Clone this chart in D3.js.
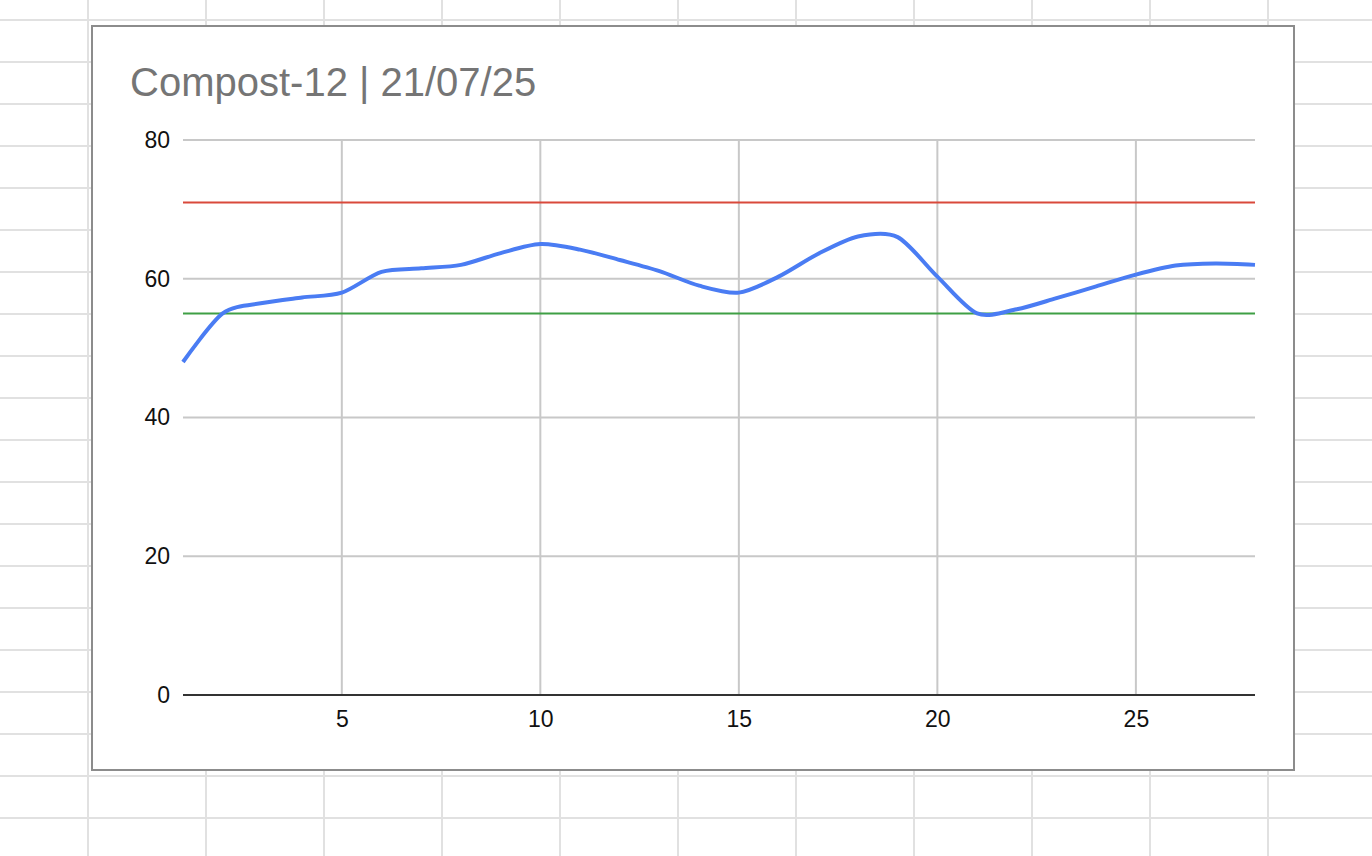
<!DOCTYPE html>
<html>
<head>
<meta charset="utf-8">
<script src="https://cdn.jsdelivr.net/npm/d3@7"></script>
<style>
  html, body {
    margin: 0;
    padding: 0;
    background: #fff;
  }
  svg text {
    font-family: "Liberation Sans", Arial, sans-serif;
  }
</style>
</head>
<body>
<svg id="svg" width="1372" height="856"></svg>
<script>
(function() {
  'use strict';

  // chart data
  var title = 'Compost-12 | 21/07/25';
  var days = [1, 2, 3, 4, 5, 6, 7, 8, 9, 10, 11, 12, 13, 14,
              15, 16, 17, 18, 19, 20, 21, 22, 23, 24, 25, 26, 27, 28];
  var temperature = [48, 55, 56.5, 57.3, 58, 61, 61.5, 62, 63.7, 65, 64.2, 62.7, 61.1, 59.0,
                     58, 60.3, 63.6, 66.1, 66.0, 60.3, 55, 55.6, 57.2, 58.9, 60.6, 61.9, 62.2, 62];
  var upperLimit = [71];
  var lowerLimit = [55];
  var xTicks = [5, 10, 15, 20, 25];
  var yTicks = [0, 20, 40, 60, 80];

  var W = 1372, H = 856;
  var svg = d3.select('#svg');

  /*
  spreadsheet cells behind the chart
  */
  var sheet = svg.append('g').attr('class', 'sheet');
  sheet.selectAll('.col')
    .data(d3.range(88, W, 118))
    .enter().append('line')
    .attr('x1', function(d) { return d; })
    .attr('x2', function(d) { return d; })
    .attr('y1', 0).attr('y2', H)
    .attr('stroke', '#e1e1e1').attr('stroke-width', 2);
  sheet.selectAll('.row')
    .data(d3.range(20, H, 42))
    .enter().append('line')
    .attr('x1', 0).attr('x2', W)
    .attr('y1', function(d) { return d; })
    .attr('y2', function(d) { return d; })
    .attr('stroke', '#e1e1e1').attr('stroke-width', 2);

  // chart box
  svg.append('rect')
    .attr('x', 92).attr('y', 26)
    .attr('width', 1202).attr('height', 744)
    .attr('fill', '#fff')
    .attr('stroke', '#8c8c8c').attr('stroke-width', 2);

  svg.append('text')
    .attr('x', 130).attr('y', 96)
    .attr('font-size', 40)
    .attr('fill', '#757575')
    .text(title);

  var x = d3.scaleLinear().domain([1, 28]).range([183, 1255]);
  var y = d3.scaleLinear().domain([0, 80]).range([695, 140]);

  // gridlines
  var grid = svg.append('g').attr('class', 'grid');
  grid.selectAll('.hgrid')
    .data(yTicks.filter(function(d) { return d > 0; }))
    .enter().append('line')
    .attr('x1', x.range()[0]).attr('x2', x.range()[1])
    .attr('y1', y).attr('y2', y)
    .attr('stroke', '#c8c8c8').attr('stroke-width', 2);
  grid.selectAll('.vgrid')
    .data(xTicks)
    .enter().append('line')
    .attr('x1', x).attr('x2', x)
    .attr('y1', y(80)).attr('y2', y(0))
    .attr('stroke', '#c8c8c8').attr('stroke-width', 2);

  // y axis labels
  var yAxis = d3.axisLeft(y).tickValues(yTicks).tickSize(0).tickPadding(13);
  svg.append('g')
    .attr('transform', 'translate(' + x.range()[0] + ',0)')
    .call(yAxis)
    .call(function(g) {
      g.select('.domain').remove();
      g.selectAll('text').attr('font-size', 23).attr('fill', '#111')
        .attr('font-family', '"Liberation Sans", Arial, sans-serif');
    });

  // x axis labels
  var xAxis = d3.axisBottom(x).tickValues(xTicks).tickSize(0).tickPadding(16);
  svg.append('g')
    .attr('transform', 'translate(0,' + y(0) + ')')
    .call(xAxis)
    .call(function(g) {
      g.select('.domain').remove();
      g.selectAll('text').attr('font-size', 23).attr('fill', '#111')
        .attr('font-family', '"Liberation Sans", Arial, sans-serif');
    });

  // baseline
  svg.append('line')
    .attr('x1', x.range()[0]).attr('x2', x.range()[1])
    .attr('y1', y(0)).attr('y2', y(0))
    .attr('stroke', '#333').attr('stroke-width', 2);

  // limit lines
  var limit = d3.line()
    .x(function(d) { return x(d[0]); })
    .y(function(d) { return y(d[1]); });
  svg.append('path')
    .attr('d', limit([[1, upperLimit[0]], [28, upperLimit[0]]]))
    .attr('stroke', '#d9493b').attr('stroke-width', 2).attr('fill', 'none');
  svg.append('path')
    .attr('d', limit([[1, lowerLimit[0]], [28, lowerLimit[0]]]))
    .attr('stroke', '#3f9f45').attr('stroke-width', 2).attr('fill', 'none');

  // temperature series
  var line = d3.line()
    .curve(d3.curveCardinal.tension(0.15))
    .x(function(d, i) { return x(days[i]); })
    .y(function(d) { return y(d); });

  svg.append('path')
    .datum(temperature)
    .attr('d', line)
    .attr('fill', 'none')
    .attr('stroke', '#4a7cf3')
    .attr('stroke-width', 4)
    .attr('stroke-linejoin', 'round');
})();
</script>
</body>
</html>
